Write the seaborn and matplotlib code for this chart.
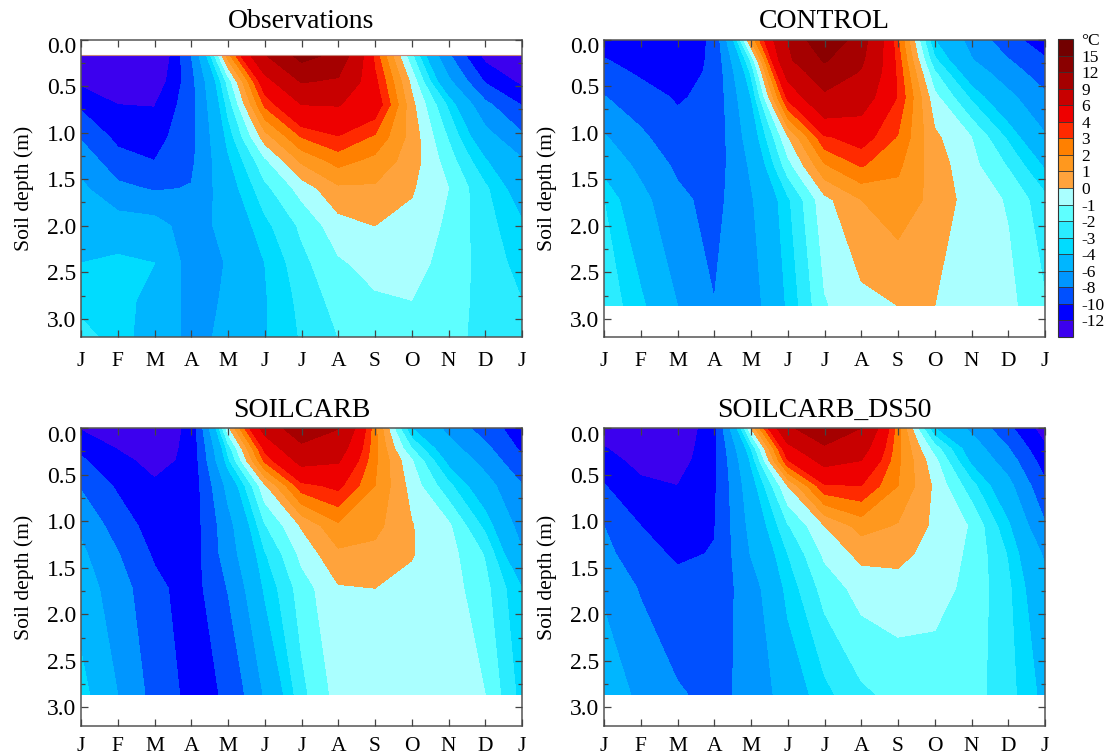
import numpy as np
import matplotlib
matplotlib.use("Agg")
import matplotlib.pyplot as plt
from matplotlib.colors import BoundaryNorm, ListedColormap
from matplotlib.colorbar import ColorbarBase
from matplotlib.ticker import MultipleLocator
from matplotlib.transforms import ScaledTranslation
import seaborn as sns

sns.set_theme(style="ticks")
plt.rcParams['font.family'] = ['Liberation Serif', 'DejaVu Serif']

month_labels = ["J", "F", "M", "A", "M", "J", "J", "A", "S", "O", "N", "D", "J"]
month_pos = list(range(13))
depth_ticks = [0.0, 0.5, 1.0, 1.5, 2.0, 2.5, 3.0]
level_values = [-40, -12, -10, -8, -6, -4, -3, -2, -1, 0, 1, 2, 3, 4, 6, 9, 12, 15, 40]
band_colors = ["#3c00ee", "#0000ff", "#0050ff", "#0096ff", "#00b6ff", "#00dcff", "#2becff",
               "#5effff", "#aaffff", "#ffa33c", "#ff981e", "#ff8000", "#ff2a00", "#ee0000",
               "#c80000", "#a50000", "#8a0000", "#720000"]
colorbar_labels = ["-12", "-10", "-8", "-6", "-4", "-3", "-2", "-1", "0", "1", "2", "3", "4",
                   "6", "9", "12", "15", "°C"]

obs_depths = [0.17, 0.45, 0.7, 1.05, 1.3, 1.6, 2.0, 2.4, 2.8, 3.2]
model_depths = [0.0, 0.22, 0.35, 0.62, 1.05, 1.35, 1.72, 2.86]

# one row per month (Jan..Dec, Jan), one value per depth
obs_temp = [
    [-15, -12.5, -10.4, -8.2, -6.7, -5.6, -4.7, -4.0, -3.3, -2.7],
    [-15, -13.5, -12, -10.5, -9.3, -7.5, -5, -3.7, -3.4, -3.3],
    [-15, -13.6, -12.1, -10.8, -10, -8.2, -5.2, -4.0, -4.6, -5],
    [-8, -8.7, -8.7, -8.6, -8.4, -7.9, -7, -6.8, -6.6, -6.4],
    [1.5, -1.6, -2.6, -3.6, -4.2, -4.7, -5.3, -5.9, -5.8, -5.7],
    [8.8, 5, 3.2, 0.5, -1.2, -2.3, -3.3, -4, -4.1, -4.1],
    [13, 9.2, 6, 3, 1.2, -0.6, -1.8, -2.3, -2.7, -2.9],
    [11.3, 8.6, 6.1, 3.9, 2.4, 0.8, -0.4, -1.15, -1.6, -2],
    [3.6, 4.3, 4.9, 2.8, 1.7, 0.85, 0, -0.6, -1.15, -1.6],
    [-1.8, -0.3, 0.3, 0.6, 0.5, 0.1, -0.3, -0.6, -1, -1.4],
    [-7.7, -5.6, -3.2, -2.1, -1.5, -1.0, -1.2, -1.4, -1.6, -1.8],
    [-12.7, -10.2, -7.5, -5.2, -3.9, -2.8, -2.6, -2.4, -2.3, -2.2],
    [-15, -12.5, -10.1, -7.6, -5.8, -4.9, -3.8, -3.4, -3, -2.7],
]
control_temp = [
    [-11, -9.9, -9.3, -7.9, -5.8, -4.6, -3, -2.3],
    [-11.2, -10.7, -10.3, -9.2, -7.6, -6.5, -5.4, -3.7],
    [-11.5, -11.2, -10.9, -10.2, -9.3, -8.4, -7.5, -6],
    [-9.6, -9.6, -9.6, -9.5, -9.4, -9.1, -8.7, -7.95],
    [1.2, -1.8, -2.8, -4, -5, -5.7, -6.2, -6.9],
    [9, 8.5, 7, 4.3, -0.1, -1.4, -3.2, -3.8],
    [14.9, 12.3, 11, 8.4, 3.8, 1.9, -0.3, -1.1],
    [10.3, 9.5, 8.8, 7.2, 4.6, 3.1, 1, -0.3],
    [3.1, 3.5, 3.7, 3.9, 2.9, 2.2, 1.6, 0],
    [-4, -2.8, -1.9, -0.7, 0.2, 0.5, 0.7, 0],
    [-6.6, -5.9, -5, -3.2, -1, -0.7, -0.5, -0.6],
    [-9.4, -7.9, -7.1, -5.5, -3.2, -2.1, -1.1, -0.7],
    [-11, -9.8, -9.1, -7.6, -5.8, -4.2, -2.7, -1.9],
]
soilcarb_temp = [
    [-12.2, -10.5, -9.7, -8.2, -6.4, -5.6, -4.9, -3.4],
    [-13, -12.1, -11.4, -10.3, -8.9, -7.9, -7.1, -6],
    [-13.5, -13, -12.7, -11.7, -10.9, -10.3, -9.4, -8.7],
    [-11.5, -11.5, -11.5, -11.4, -11.2, -11.1, -11, -10.6],
    [-0.3, -2.6, -3.3, -5.4, -6.7, -7, -7.9, -9.8],
    [7, 4.3, 3.2, -0.2, -2.1, -3.1, -3.8, -5.8],
    [11, 8.3, 6.7, 3.6, 0.1, -0.7, -1.5, -2.3],
    [9.1, 7.2, 6.2, 4.3, 1.8, 0.8, -0.1, -0.6],
    [2.3, 2.3, 2.2, 2, 1.3, 0.7, 0, -0.4],
    [-4, -2, -0.9, -0.4, 0.05, 0.05, -0.2, -0.4],
    [-6.5, -5.2, -4.4, -2.7, -0.8, -0.6, -0.5, -0.6],
    [-9, -7.5, -6.7, -5.2, -3.3, -2.1, -1.7, -1],
    [-11.1, -10.4, -9.6, -7.9, -6.8, -5.8, -4, -3.4],
]
ds50_temp = [
    [-13, -11.9, -11.3, -9.9, -8, -7.4, -6.2, -5.2],
    [-13.5, -13, -12.6, -11.6, -10, -9.3, -8.2, -6.3],
    [-14, -13.4, -13, -12, -11, -10.3, -9.4, -7.8],
    [-10.5, -10.4, -10.4, -10.3, -10.1, -9.9, -9.3, -8.5],
    [0, -3, -3.8, -4.7, -5.4, -5.9, -6.9, -7.5],
    [8.5, 5.2, 3.9, 0, -2.1, -3, -3.6, -5],
    [11, 8.6, 6.7, 3.8, 0, -0.8, -1.6, -3.3],
    [9, 7, 6, 4, 1.4, 0.3, -0.6, -2.2],
    [2.4, 2.3, 2.2, 2, 0.9, 0.3, -0.4, -1.7],
    [-4, -1.5, -0.7, -0.2, -0.2, -0.4, -0.6, -1.6],
    [-6.4, -4.9, -4.3, -2.6, -1.1, -1.2, -1.3, -1.6],
    [-9.5, -7.9, -7, -5.4, -3.8, -3.1, -2.8, -2.6],
    [-13, -11.7, -11, -9.6, -7.8, -6.3, -5.4, -4.4],
]

W, H = 1111, 755
fig = plt.figure(figsize=(W / 100, H / 100), dpi=100, facecolor="white")


def px_axes(x0, y0, x1, y1):
    return fig.add_axes([x0 / W, 1 - y1 / H, (x1 - x0) / W, (y1 - y0) / H])


palette = sns.color_palette(band_colors)
panels = [
    ("Observations", obs_depths, obs_temp, (81, 39.5, 522, 337.5), 10.5),
    ("CONTROL", model_depths, control_temp, (604, 39.5, 1045, 337.5), 10.5),
    ("SOILCARB", model_depths, soilcarb_temp, (81, 428, 522, 726), 8),
    ("SOILCARB_DS50", model_depths, ds50_temp, (604, 428, 1045, 726), 8),
]
edge = "#555555"
for title, depths, temp, box, xpad in panels:
    ax = px_axes(*box)
    ax.set_facecolor("white")
    ax.contourf(month_pos, depths, np.array(temp).T, levels=level_values, colors=palette)
    if depths is obs_depths:
        ax.plot(month_pos, [depths[0]] * len(month_pos), color="#c8857a", lw=0.8)
    ax.set_xlim(0, 12)
    ax.set_ylim(3.2, 0)
    ax.set_xticks(month_pos)
    ax.set_xticklabels(month_labels)
    ax.set_yticks(depth_ticks)
    ax.yaxis.set_minor_locator(MultipleLocator(0.25))
    ax.yaxis.set_major_formatter("{x:.1f}")
    ax.tick_params(axis="both", which="major", direction="in", top=True, right=True,
                   length=5, width=0.9, color="#444444", labelcolor="black")
    ax.tick_params(axis="x", pad=xpad, labelsize=15.5)
    ax.tick_params(axis="y", pad=3.5, labelsize=17)
    ax.tick_params(axis="y", which="minor", direction="in", left=True, right=True,
                   length=3, width=0.9, color="#444444")
    first_label = ax.yaxis.get_major_ticks()[0].label1
    first_label.set_transform(first_label.get_transform()
                              + ScaledTranslation(0, -5.5 / 100, fig.dpi_scale_trans))
    for spine in ax.spines.values():
        spine.set_color(edge)
        spine.set_linewidth(1.1)
    ax.set_ylabel("Soil depth (m)", fontsize=15.6, color="black")
    ax.yaxis.set_label_coords(-47 / 441, 0.5)
    ax.set_title(title, fontsize=20, color="black", pad=8)
    ax.set_axisbelow(False)

cax = px_axes(1058, 39, 1073, 337)
cb = ColorbarBase(cax, cmap=ListedColormap(palette),
                  norm=BoundaryNorm(level_values, len(band_colors)),
                  boundaries=level_values, spacing="uniform",
                  ticks=level_values[1:], drawedges=True)
cb.set_ticklabels(colorbar_labels)
cb.minorticks_off()
cb.ax.tick_params(which="both", length=0, labelsize=12.5, pad=6, labelcolor="black")
cb.dividers.set_color("#333333")
cb.dividers.set_linewidth(0.6)
cb.outline.set_edgecolor("#333333")
cb.outline.set_linewidth(0.8)

fig.savefig("out.png", dpi=100, facecolor="white")
